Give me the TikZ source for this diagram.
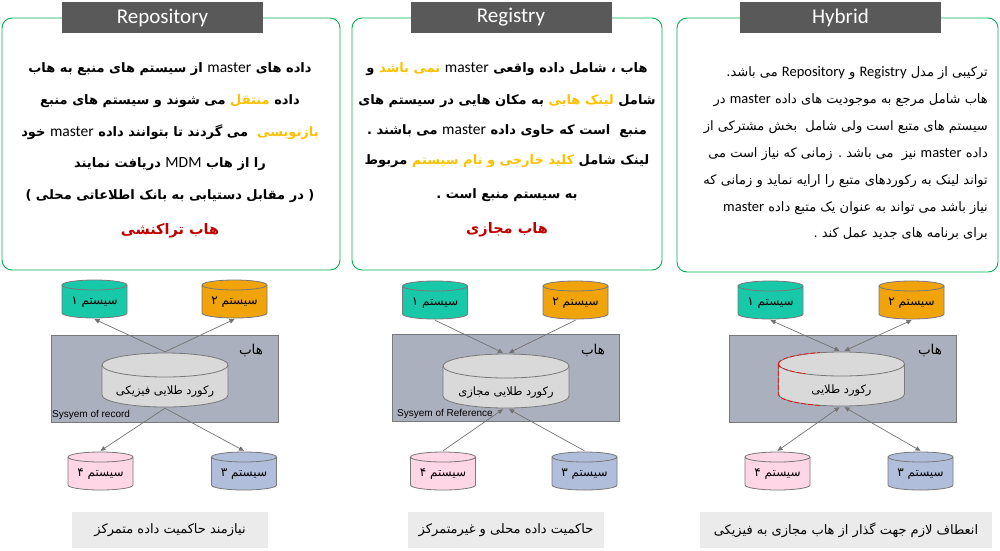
\documentclass[tikz,border=0pt]{standalone}
\usepackage{fontspec}
\setmainfont{Carlito}
\newfontfamily\fa[Script=Arabic]{DejaVu Sans}
\newfontfamily\faplain{DejaVu Sans}
\newfontfamily\latfont{Carlito}
\newfontfamily\arialfont{Liberation Sans}
\usetikzlibrary{arrows.meta}
\TeXXeTstate=1
\definecolor{panelgreen}{RGB}{0,176,80}
\definecolor{tabgray}{RGB}{89,89,89}
\definecolor{hubgray}{RGB}{171,176,190}
\definecolor{goldgray}{RGB}{217,217,217}
\definecolor{capgray}{RGB}{235,235,235}
\definecolor{drumline}{RGB}{120,120,120}
\definecolor{flowgray}{RGB}{115,115,115}
\definecolor{systeal}{RGB}{23,201,169}
\definecolor{sysorange}{RGB}{240,164,10}
\definecolor{syspink}{RGB}{255,214,229}
\definecolor{sysblue}{RGB}{176,190,219}
\definecolor{hlgold}{RGB}{255,192,0}
\definecolor{hubred}{RGB}{192,0,0}
\def\lwsz{15.5}
\newcommand\lw[1]{{\latfont\mdseries\fontsize{\lwsz}{15}\selectfont #1}}
\newcommand\rl[1]{\beginR #1\endR}
\newcommand\hl[1]{\textcolor{hlgold}{\beginR #1\endR}}
\newcommand\pn[1]{{\faplain #1}}
\tikzset{
  panel/.style={draw=panelgreen, line width=0.9pt, rounded corners=10pt},
  tab/.style={fill=tabgray, text=white, minimum width=201pt, minimum height=31pt,
    inner sep=0pt, font=\fontsize{21}{22}\selectfont},
  boldline/.style={anchor=base, inner sep=0pt, font=\fa\bfseries\fontsize{13}{15}\selectfont},
  redline/.style={boldline, text=hubred, font=\fa\bfseries\fontsize{14.5}{16}\selectfont},
  plainline/.style={anchor=base east, inner sep=0pt,
    font=\def\lwsz{14.5}\fa\fontsize{13}{15}\selectfont},
  hub/.style={draw=drumline, fill=hubgray, line width=0.8pt, minimum width=227pt,
    minimum height=87pt, inner sep=0pt},
  hubname/.style={inner sep=0pt, font=\fa\fontsize{13.5}{15}\selectfont},
  hubkind/.style={anchor=west, inner sep=0pt, font=\arialfont\fontsize{10}{12}\selectfont},
  drum/.style n args={4}{minimum width=#2+2pt, minimum height=#3+2pt, inner sep=0pt,
    path picture={
      \filldraw[fill=#1, draw=drumline, line width=0.8pt]
        ([shift={(1pt,-#4-1pt)}]path picture bounding box.north west)
        -- ([shift={(1pt,#4+1pt)}]path picture bounding box.south west)
        arc[start angle=180, end angle=360, x radius=#2/2, y radius=#4]
        -- ([shift={(-1pt,-#4-1pt)}]path picture bounding box.north east)
        arc[start angle=0, end angle=180, x radius=#2/2, y radius=#4] -- cycle;
      \draw[drumline, line width=0.8pt]
        ([shift={(1pt,-#4-1pt)}]path picture bounding box.north west)
        arc[start angle=180, end angle=360, x radius=#2/2, y radius=#4];
    }},
  sys/.style={drum={#1}{65pt}{38pt}{5pt}, text height=10pt, text depth=0pt,
    font=\fa\fontsize{12}{14}\selectfont},
  gold/.style={drum={goldgray}{126pt}{54pt}{12pt}, text height=28pt, text depth=0pt,
    font=\fa\fontsize{11.5}{14}\selectfont},
  flow/.style={draw=flowgray, line width=0.7pt, -{Triangle[length=5pt,width=4.5pt]}},
  flowboth/.style={flow, {Triangle[length=5pt,width=4.5pt]}-{Triangle[length=5pt,width=4.5pt]}},
  caption/.style={fill=capgray, minimum height=36pt, inner sep=0pt,
    font=\fa\fontsize{13}{15}\selectfont}
}
\begin{document}
\begin{tikzpicture}[x=1pt, y=-1pt]
  \useasboundingbox (0,0) rectangle (1000,550);
  % Text panels
  \draw[panel] (2,18) rectangle (340,270);
  \draw[panel] (352,18) rectangle (662,270);
  \draw[panel] (677,18) rectangle (998,272);
  \node[tab] (rptab) at (162.5,17.5) {Repository};
  \node[tab] (rgtab) at (511,17.5) {Registry};
  \node[tab] (hytab) at (840.5,17.5) {Hybrid};
  % Repository text (segments left to right)
  \node[boldline] (rptx1) at (170,72) {\rl{داده های \lw{master} از سیستم های منبع به هاب}};
  \node[boldline] (rptx2) at (170,104) {\rl{می شوند و سیستم های منبع} \hl{منتقل} \rl{داده}};
  \node[boldline] (rptx3) at (170,136) {\rl{می گردند تا بتوانند داده \lw{master} خود}\ \ \hl{بازنویسی}};
  \node[boldline] (rptx4) at (170,167) {\rl{را از هاب \lw{MDM} دریافت نمایند}};
  \node[boldline] (rptx5) at (170,199) {\pn{(} \rl{در مقابل دستیابی به بانک اطلاعاتی محلی} \pn{)}};
  \node[redline] (rptx6) at (170,234) {\rl{هاب تراکنشی}};
  % Registry text
  \node[boldline] (rgtx1) at (507,72) {\rl{و} \hl{نمی باشد} \rl{هاب ، شامل داده واقعی \lw{master}}};
  \node[boldline] (rgtx2) at (507,104) {\rl{به مکان هایی در سیستم های} \hl{لینک هایی} \rl{شامل}};
  \node[boldline] (rgtx3) at (507,134) {\rl{منبع\ \ است که حاوی داده \lw{master} می باشند .}};
  \node[boldline] (rgtx4) at (507,164) {\rl{مربوط} \hl{کلید خارجی و نام سیستم} \rl{لینک شامل}};
  \node[boldline] (rgtx5) at (507,198) {\rl{به سیستم منبع است .}};
  \node[redline] (rgtx6) at (507,233) {\rl{هاب مجازی}};
  % Hybrid text
  \node[plainline] (hytx1) at (988,76) {\rl{ترکیبی از مدل \lw{Registry} و \lw{Repository} می باشد\kern0pt.}};
  \node[plainline] (hytx2) at (988,103) {\rl{هاب شامل مرجع به موجودیت های داده \lw{master} در}};
  \node[plainline] (hytx3) at (988,130) {\rl{سیستم های متبع است ولی شامل\ \ بخش مشترکی از}};
  \node[plainline] (hytx4) at (988,157) {\rl{داده \lw{master} نیز\ \ می باشد . زمانی که نیاز است می}};
  \node[plainline] (hytx5) at (988,184) {\rl{تواند لینک به رکوردهای متبع را ارایه نماید و زمانی که}};
  \node[plainline] (hytx6) at (988,211) {\rl{نیاز باشد می تواند به عنوان یک متبع داده \lw{master}}};
  \node[plainline] (hytx7) at (988,237) {\rl{برای برنامه های جدید عمل کند .}};

  % Repository diagram
  \node[hub] (rphub) at (164.5,378.5) {};
  \node[hubname] (rphubl) at (251,351) {\rl{هاب}};
  \node[hubkind] (rpkind) at (52,415) {Sysyem of record};
  \node[sys=systeal] (rp1) at (94.5,299) {\rl{سیستم ۱}};
  \node[sys=sysorange] (rp2) at (234.5,299) {\rl{سیستم ۲}};
  \node[gold] (rpgold) at (165,380) {\rl{رکورد طلایی فیزیکی}};
  \node[sys=syspink] (rp4) at (100.5,471) {\rl{سیستم ۴}};
  \node[sys=sysblue] (rp3) at (244,471) {\rl{سیستم ۳}};
  \draw[flow] (rpgold.north) -- (rp1.south);
  \draw[flow] (rpgold.north) -- (rp2.south);
  \draw[flow] (rpgold.south) -- (rp4.north);
  \draw[flow] (rpgold.south) -- (rp3.north);
  \node[caption, minimum width=196pt] (rpcap) at (170,530) {\rl{نیازمند حاکمیت داده متمرکز}};

  % Registry diagram
  \node[hub] (rghub) at (506,378) {};
  \node[hubname] (rghubl) at (593,351) {\rl{هاب}};
  \node[hubkind] (rgkind) at (397,414) {Sysyem of Reference};
  \node[sys=systeal] (rg1) at (435,300) {\rl{سیستم ۱}};
  \node[sys=sysorange] (rg2) at (575.5,300) {\rl{سیستم ۲}};
  \node[gold] (rggold) at (506,381) {\rl{رکورد طلایی مجازی}};
  \node[sys=syspink] (rg4) at (443,471) {\rl{سیستم ۴}};
  \node[sys=sysblue] (rg3) at (584.5,471) {\rl{سیستم ۳}};
  \draw[flow] (rg1.south) -- ([xshift=-3pt]rggold.north);
  \draw[flow] (rg2.south) -- ([xshift=3pt]rggold.north);
  \draw[flow] (rg4.north) -- ([xshift=-3pt]rggold.south);
  \draw[flow] (rg3.north) -- ([xshift=3pt]rggold.south);
  \node[caption, minimum width=196pt] (rgcap) at (506,530) {\rl{حاکمیت داده محلی و غیرمتمرکز}};

  % Hybrid diagram
  \node[hub] (hyhub) at (842.5,379) {};
  \node[hubname] (hyhubl) at (930,351) {\rl{هاب}};
  \node[sys=systeal] (hy1) at (770.5,300) {\rl{سیستم ۱}};
  \node[sys=sysorange] (hy2) at (911.5,300) {\rl{سیستم ۲}};
  \node[gold] (hygold) at (841.5,379) {\rl{رکورد طلایی}};
  \node[sys=syspink] (hy4) at (777.5,471) {\rl{سیستم ۴}};
  \node[sys=sysblue] (hy3) at (920.5,471) {\rl{سیستم ۳}};
  \draw[flowboth] (hy1.south) -- ([xshift=-2pt]hygold.north);
  \draw[flowboth] (hy2.south) -- ([xshift=3pt]hygold.north);
  \draw[flowboth] (hy4.north) -- ([xshift=-2pt]hygold.south);
  \draw[flowboth] (hy3.north) -- ([xshift=3pt]hygold.south);
  % red dashed outline on the left of the golden record
  \draw[red, dashed, line width=0.7pt, dash pattern=on 5pt off 2pt]
    ([shift={(1pt,-13pt)}]hygold.north west)
    arc[start angle=180, end angle=110, x radius=63pt, y radius=12pt];
  \draw[red, dashed, line width=0.7pt, dash pattern=on 5pt off 2pt]
    ([shift={(1pt,-13pt)}]hygold.north west)
    arc[start angle=180, end angle=235, x radius=63pt, y radius=12pt];
  \draw[red, dashed, line width=0.7pt, dash pattern=on 5pt off 2pt]
    ([shift={(1pt,-13pt)}]hygold.north west) -- ([shift={(1pt,13pt)}]hygold.south west)
    arc[start angle=180, end angle=250, x radius=63pt, y radius=12pt];
  \node[caption, minimum width=292pt] (hycap) at (846,530) {\rl{انعطاف لازم جهت گذار از هاب مجازی به فیزیکی}};
\end{tikzpicture}
\end{document}
